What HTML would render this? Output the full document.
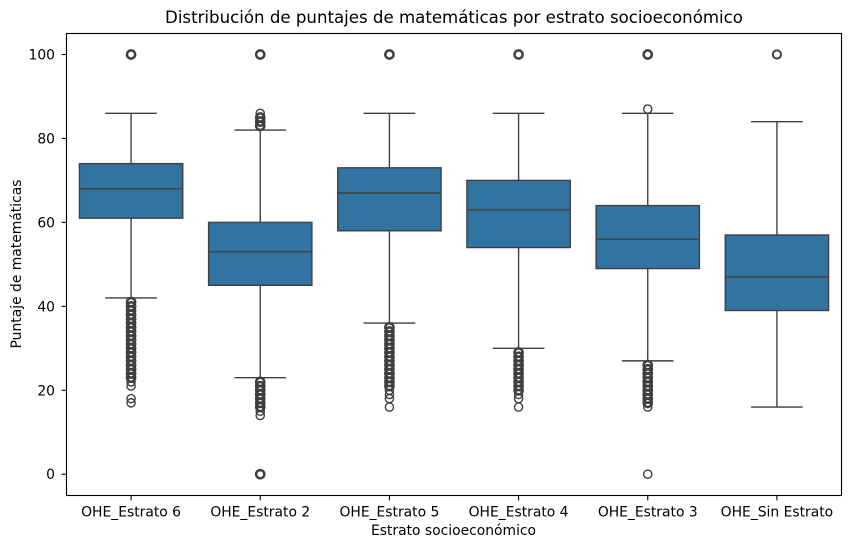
<!DOCTYPE html>
<html lang="es">
<head>
<meta charset="utf-8">
<title>Distribución de puntajes de matemáticas por estrato socioeconómico</title>
<style>
html,body{margin:0;padding:0;background:#fff;}
svg{display:block;}
text{font-family:"DejaVu Sans","Liberation Sans",sans-serif;fill:#000;}
</style>
</head>
<body>
<svg id="chart" width="851" height="548" viewBox="0 0 851 548" xmlns="http://www.w3.org/2000/svg">
  <rect x="0" y="0" width="851" height="548" fill="#ffffff"/>
  <text x="454" y="23" font-size="16.62" text-anchor="middle">Distribución de puntajes de matemáticas por estrato socioeconómico</text>
  <text x="453.5" y="535" font-size="13.89" text-anchor="middle">Estrato socioeconómico</text>
  <text x="0" y="0" font-size="13.89" text-anchor="middle" transform="translate(21,264) rotate(-90)">Puntaje de matemáticas</text>
  <g id="marks"></g>
  <g id="axes"></g>
</svg>
<script>
const categories = ["OHE_Estrato 6", "OHE_Estrato 2", "OHE_Estrato 5", "OHE_Estrato 4", "OHE_Estrato 3", "OHE_Sin Estrato"];
const q1Values = [61, 45, 58, 54, 49, 39];
const medianValues = [68, 53, 67, 63, 56, 47];
const q3Values = [74, 60, 73, 70, 64, 57];
const whiskerLowValues = [42, 23, 36, 30, 27, 16];
const whiskerHighValues = [86, 82, 86, 86, 86, 84];
const denseOutliers = [
  [100, 41, 40, 39, 38, 37, 36, 35, 34, 33, 32, 31, 30, 29, 28, 27, 26, 25, 24, 23],
  [100, 85, 84, 83, 22, 21, 20, 19, 18, 17, 16, 0],
  [100, 35, 34, 33, 32, 31, 30, 29, 28, 27, 26, 25, 24, 23, 22, 21],
  [100, 29, 28, 27, 26, 25, 24, 23, 22, 21, 20],
  [100, 26, 25, 24, 23, 22, 21, 20, 19, 18, 17],
  []
];
const mediumOutliers = [
  [],
  [],
  [],
  [],
  [],
  [100]
];
const sparseOutliers = [
  [22, 21, 18, 17],
  [86, 15, 14],
  [20, 19, 18, 16],
  [19, 18, 16],
  [87, 16, 0],
  []
];
const yTickValues = [0, 20, 40, 60, 80, 100];

const SVG_NS = "http://www.w3.org/2000/svg";
const plotLeft = 66.5, plotRight = 841.5, plotTop = 33.5, plotBottom = 495.5;
const lineColor = "#3f3f3f";
const boxColor = "#3274a1";
const lineWidth = 1.39;
const yScale = function (v) { return 474.2 + (54.5 - 474.2) * v / 100; };
const bandWidth = (plotRight - plotLeft) / categories.length;
const xScale = function (i) { return plotLeft + (i + 0.5) * bandWidth; };

const marks = document.getElementById("marks");
const axes = document.getElementById("axes");

function make(tag, parent, attrs) {
  const el = document.createElementNS(SVG_NS, tag);
  Object.keys(attrs).forEach(function (k) { el.setAttribute(k, attrs[k]); });
  parent.appendChild(el);
  return el;
}
function seg(parent, x1, y1, x2, y2, color, width) {
  return make("line", parent, { x1: x1, y1: y1, x2: x2, y2: y2, stroke: color, "stroke-width": width });
}
function flier(parent, x, v, width) {
  return make("circle", parent, { cx: x, cy: yScale(v), r: 4.1, fill: "none", stroke: lineColor, "stroke-width": width });
}

categories.forEach(function (cat, i) {
  const cx = xScale(i);
  const boxW = bandWidth * 0.8;
  const capW = bandWidth * 0.4;

  const group = make("g", marks, {});
  
  

  const whiskerLow = seg(group, cx, yScale(q1Values[i]), cx, yScale(whiskerLowValues[i]), lineColor, lineWidth);
  
  

  const whiskerHigh = seg(group, cx, yScale(q3Values[i]), cx, yScale(whiskerHighValues[i]), lineColor, lineWidth);
  
  

  const capLow = seg(group, cx - capW / 2, yScale(whiskerLowValues[i]), cx + capW / 2, yScale(whiskerLowValues[i]), lineColor, lineWidth);
  
  

  const capHigh = seg(group, cx - capW / 2, yScale(whiskerHighValues[i]), cx + capW / 2, yScale(whiskerHighValues[i]), lineColor, lineWidth);
  
  

  const box = make("rect", group, {
    x: cx - boxW / 2,
    y: yScale(q3Values[i]),
    width: boxW,
    height: yScale(q1Values[i]) - yScale(q3Values[i]),
    fill: boxColor,
    stroke: lineColor,
    "stroke-width": lineWidth
  });
  
  

  const median = seg(group, cx - boxW / 2, yScale(medianValues[i]), cx + boxW / 2, yScale(medianValues[i]), lineColor, lineWidth);
  
  

  denseOutliers[i].forEach(function (v) {
    const dot = flier(group, cx, v, 2.5);
    
    
  });
  mediumOutliers[i].forEach(function (v) {
    const dot = flier(group, cx, v, 2);
    
    
  });
  sparseOutliers[i].forEach(function (v) {
    const dot = flier(group, cx, v, 1.39);
    
    
  });

  const tick = seg(axes, cx, plotBottom, cx, plotBottom + 4.86, "#000", 1.11);
  
  

  const label = make("text", axes, { x: cx, y: plotBottom + 21, "font-size": 13.89, "text-anchor": "middle" });
  label.textContent = cat;
  
  
});

yTickValues.forEach(function (v) {
  const y = yScale(v);
  const tick = seg(axes, plotLeft - 4.86, y, plotLeft, y, "#000", 1.11);
  
  

  const label = make("text", axes, { x: plotLeft - 11.5, y: y + 5, "font-size": 13.89, "text-anchor": "end" });
  label.textContent = String(v);
  
  
});

const frame = make("rect", axes, {
  x: plotLeft,
  y: plotTop,
  width: plotRight - plotLeft,
  height: plotBottom - plotTop,
  fill: "none",
  stroke: "#000",
  "stroke-width": 1.11
});


</script>
</body>
</html>
